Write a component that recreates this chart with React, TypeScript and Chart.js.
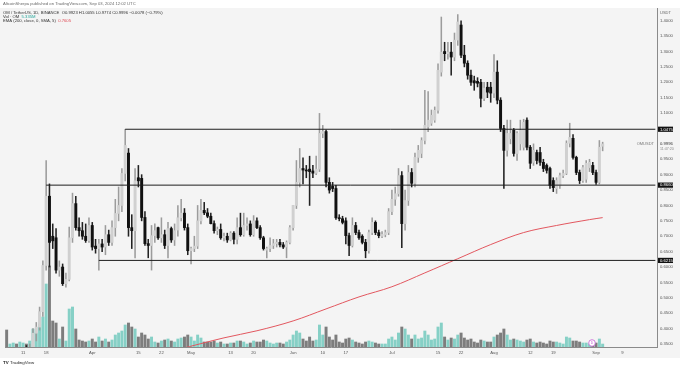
import React, { useEffect, useRef } from "react";
import { Chart, registerables } from "chart.js";

Chart.register(...registerables);

const FONT = "'Liberation Sans', 'DejaVu Sans', sans-serif";

// ---- categories (daily) ----
const startDate = "2024-03-06";
const dayCount = 198;

// ---- OHLC (OM / TetherUS, 1D) ----
const opens = [
  0.300, 0.290, 0.298, 0.305, 0.300, 0.318, 0.322, 0.316, 0.338, 0.385,
  0.405, 0.455, 0.605, 0.830, 0.700, 0.695, 0.590, 0.600, 0.546, 0.560,
  0.695, 0.806, 0.728, 0.718, 0.700, 0.686, 0.735, 0.668, 0.660, 0.675,
  0.665, 0.705, 0.680, 0.728, 0.774, 0.800, 0.904, 0.970, 0.728, 0.718,
  0.890, 0.888, 0.761, 0.676, 0.670, 0.702, 0.728, 0.695, 0.705, 0.670,
  0.725, 0.688, 0.720, 0.760, 0.775, 0.728, 0.653, 0.660, 0.668, 0.750,
  0.784, 0.776, 0.765, 0.741, 0.718, 0.722, 0.695, 0.700, 0.688, 0.710,
  0.690, 0.728, 0.705, 0.735, 0.740, 0.705, 0.750, 0.728, 0.695, 0.655,
  0.660, 0.670, 0.676, 0.680, 0.672, 0.665, 0.680, 0.728, 0.800, 0.875,
  0.920, 0.915, 0.918, 0.912, 0.905, 0.918, 1.034, 1.040, 0.875, 0.862,
  0.855, 0.760, 0.757, 0.750, 0.702, 0.670, 0.735, 0.712, 0.700, 0.680,
  0.653, 0.712, 0.745, 0.712, 0.700, 0.705, 0.712, 0.780, 0.820, 0.838,
  0.897, 0.741, 0.816, 0.907, 0.872, 0.956, 0.969, 1.011, 1.055, 1.067,
  1.077, 1.109, 1.233, 1.300, 1.293, 1.298, 1.282, 1.337, 1.386, 1.288,
  1.262, 1.223, 1.205, 1.203, 1.200, 1.148, 1.184, 1.184, 1.165, 1.233,
  1.142, 1.050, 0.979, 1.017, 1.044, 0.969, 1.000, 0.989, 1.077, 0.989,
  0.940, 0.972, 0.972, 0.940, 0.930, 0.920, 0.881, 0.855, 0.865, 0.897,
  0.904, 1.002, 1.018, 0.956, 0.907, 0.881, 0.885, 0.923, 0.930, 0.907,
  0.875, 0.9923,
];
const highs = [
  0.310, 0.305, 0.312, 0.320, 0.325, 0.335, 0.345, 0.350, 0.400, 0.420,
  0.470, 0.620, 0.946, 0.870, 0.740, 0.725, 0.620, 0.610, 0.580, 0.730,
  0.840, 0.830, 0.760, 0.745, 0.740, 0.760, 0.745, 0.690, 0.690, 0.690,
  0.735, 0.720, 0.750, 0.820, 0.860, 0.920, 1.047, 0.985, 0.770, 0.920,
  0.930, 0.900, 0.780, 0.690, 0.735, 0.740, 0.730, 0.760, 0.720, 0.745,
  0.730, 0.740, 0.800, 0.820, 0.790, 0.740, 0.665, 0.700, 0.800, 0.820,
  0.810, 0.790, 0.775, 0.750, 0.730, 0.740, 0.710, 0.710, 0.715, 0.715,
  0.760, 0.775, 0.775, 0.760, 0.750, 0.767, 0.760, 0.735, 0.700, 0.665,
  0.695, 0.690, 0.690, 0.690, 0.680, 0.685, 0.735, 0.800, 0.946, 0.985,
  0.955, 0.930, 0.960, 0.930, 0.960, 1.099, 1.060, 1.045, 0.890, 0.875,
  0.865, 0.770, 0.765, 0.760, 0.710, 0.760, 0.745, 0.720, 0.705, 0.690,
  0.720, 0.760, 0.750, 0.720, 0.715, 0.720, 0.790, 0.850, 0.860, 0.920,
  0.910, 0.850, 0.930, 0.920, 0.970, 0.995, 1.020, 1.174, 1.170, 1.110,
  1.120, 1.260, 1.412, 1.330, 1.330, 1.330, 1.360, 1.420, 1.400, 1.320,
  1.270, 1.240, 1.220, 1.215, 1.210, 1.200, 1.200, 1.200, 1.290, 1.270,
  1.150, 1.060, 1.077, 1.077, 1.050, 1.040, 1.077, 1.080, 1.085, 0.995,
  1.000, 0.980, 0.989, 0.950, 0.935, 0.925, 0.890, 0.890, 0.905, 0.915,
  1.010, 1.067, 1.030, 0.960, 0.915, 0.930, 0.946, 0.950, 0.940, 0.915,
  1.011, 1.0055,
];
const lows = [
  0.280, 0.285, 0.290, 0.298, 0.295, 0.310, 0.312, 0.310, 0.330, 0.360,
  0.395, 0.440, 0.590, 0.600, 0.660, 0.580, 0.570, 0.540, 0.535, 0.555,
  0.680, 0.720, 0.700, 0.690, 0.680, 0.680, 0.655, 0.645, 0.590, 0.650,
  0.640, 0.670, 0.670, 0.700, 0.750, 0.780, 0.880, 0.700, 0.660, 0.630,
  0.860, 0.750, 0.670, 0.630, 0.590, 0.680, 0.690, 0.680, 0.660, 0.630,
  0.680, 0.670, 0.700, 0.750, 0.720, 0.640, 0.610, 0.650, 0.660, 0.740,
  0.770, 0.760, 0.740, 0.710, 0.705, 0.690, 0.685, 0.680, 0.685, 0.675,
  0.675, 0.700, 0.700, 0.720, 0.700, 0.700, 0.725, 0.690, 0.655, 0.630,
  0.650, 0.660, 0.665, 0.665, 0.660, 0.630, 0.675, 0.720, 0.790, 0.860,
  0.870, 0.890, 0.800, 0.890, 0.900, 0.910, 1.020, 0.860, 0.840, 0.845,
  0.755, 0.750, 0.740, 0.675, 0.637, 0.665, 0.705, 0.690, 0.675, 0.630,
  0.645, 0.705, 0.705, 0.695, 0.695, 0.698, 0.705, 0.770, 0.800, 0.830,
  0.663, 0.720, 0.800, 0.860, 0.860, 0.940, 0.955, 1.000, 1.040, 1.060,
  1.070, 1.100, 1.220, 1.270, 1.275, 1.223, 1.270, 1.320, 1.280, 1.250,
  1.210, 1.190, 1.174, 1.185, 1.120, 1.140, 1.150, 1.135, 1.150, 1.130,
  1.040, 0.855, 0.960, 1.000, 0.960, 0.946, 0.980, 0.980, 0.980, 0.920,
  0.930, 0.935, 0.930, 0.910, 0.905, 0.855, 0.845, 0.839, 0.855, 0.890,
  0.900, 0.990, 0.950, 0.900, 0.871, 0.875, 0.875, 0.910, 0.900, 0.868,
  0.870, 0.9774,
];
const closes = [
  0.290, 0.298, 0.305, 0.300, 0.318, 0.322, 0.316, 0.338, 0.385, 0.405,
  0.455, 0.605, 0.830, 0.680, 0.685, 0.590, 0.600, 0.546, 0.560, 0.695,
  0.806, 0.728, 0.718, 0.700, 0.686, 0.735, 0.665, 0.660, 0.675, 0.665,
  0.705, 0.680, 0.728, 0.774, 0.800, 0.904, 0.995, 0.728, 0.718, 0.880,
  0.880, 0.761, 0.676, 0.670, 0.702, 0.718, 0.695, 0.705, 0.670, 0.725,
  0.688, 0.718, 0.760, 0.775, 0.728, 0.653, 0.660, 0.668, 0.750, 0.784,
  0.776, 0.765, 0.741, 0.718, 0.722, 0.695, 0.700, 0.688, 0.710, 0.690,
  0.728, 0.705, 0.735, 0.740, 0.705, 0.750, 0.728, 0.695, 0.660, 0.660,
  0.670, 0.676, 0.680, 0.672, 0.665, 0.680, 0.728, 0.800, 0.875, 0.920,
  0.915, 0.912, 0.910, 0.905, 0.918, 1.034, 1.040, 0.875, 0.850, 0.855,
  0.760, 0.757, 0.745, 0.702, 0.670, 0.735, 0.712, 0.695, 0.680, 0.653,
  0.712, 0.745, 0.712, 0.702, 0.706, 0.712, 0.780, 0.820, 0.838, 0.897,
  0.741, 0.816, 0.907, 0.872, 0.956, 0.979, 1.011, 1.060, 1.077, 1.093,
  1.109, 1.239, 1.298, 1.293, 1.298, 1.282, 1.337, 1.396, 1.288, 1.262,
  1.223, 1.200, 1.198, 1.197, 1.148, 1.181, 1.168, 1.165, 1.233, 1.142,
  1.050, 0.979, 1.034, 1.034, 0.969, 1.034, 1.044, 1.070, 0.989, 0.937,
  0.979, 0.946, 0.940, 0.920, 0.914, 0.865, 0.858, 0.881, 0.897, 0.904,
  1.002, 1.021, 0.956, 0.907, 0.881, 0.923, 0.937, 0.940, 0.907, 0.875,
  0.989, 0.9996,
];
// volume, millions of OM
const volumes = [
  30.6, 5.4, 7.2, 5.4, 9.0, 7.2, 5.4, 10.8, 32.4, 25.2,
  41.4, 54.0, 113.4, 145.8, 46.8, 43.2, 14.4, 36.0, 10.8, 68.4,
  72.0, 32.4, 12.6, 10.8, 9.0, 10.8, 14.4, 9.0, 18.0, 10.8,
  14.4, 9.0, 12.6, 21.6, 25.2, 28.8, 39.6, 43.2, 36.0, 32.4,
  18.0, 25.2, 21.6, 14.4, 18.0, 9.0, 7.2, 10.8, 12.6, 14.4,
  10.8, 9.0, 14.4, 16.2, 18.0, 21.6, 18.0, 10.8, 21.6, 16.2,
  9.0, 9.0, 9.0, 10.8, 7.2, 9.0, 5.4, 5.4, 7.2, 7.2,
  10.8, 10.8, 9.0, 5.4, 7.2, 10.8, 9.0, 9.0, 12.6, 10.8,
  7.2, 5.4, 7.2, 7.2, 5.4, 9.0, 12.6, 21.6, 28.8, 25.2,
  14.4, 10.8, 18.0, 10.8, 12.6, 39.6, 21.6, 36.0, 18.0, 12.6,
  21.6, 9.0, 7.2, 14.4, 16.2, 12.6, 9.0, 7.2, 5.4, 9.0,
  10.8, 9.0, 7.2, 5.4, 5.4, 5.4, 14.4, 18.0, 12.6, 25.2,
  36.0, 32.4, 21.6, 14.4, 21.6, 14.4, 16.2, 28.8, 21.6, 12.6,
  14.4, 36.0, 43.2, 18.0, 12.6, 16.2, 14.4, 21.6, 25.2, 16.2,
  12.6, 14.4, 9.0, 7.2, 12.6, 10.8, 9.0, 9.0, 18.0, 21.6,
  25.2, 32.4, 21.6, 12.6, 14.4, 12.6, 10.8, 9.0, 12.6, 14.4,
  9.0, 7.2, 9.0, 7.2, 5.4, 10.8, 9.0, 9.0, 7.2, 5.4,
  18.0, 16.2, 10.8, 10.8, 9.0, 7.2, 7.2, 5.4, 5.4, 7.2,
  14.4, 5.335,
];

// ---- EMA 200 (read at sample dates) ----
const emaDates = [
  "2024-04-27", "2024-05-11", "2024-05-21", "2024-06-01", "2024-06-11", "2024-06-21",
  "2024-07-01", "2024-07-11", "2024-07-21", "2024-07-31", "2024-08-10", "2024-08-20",
  "2024-08-30", "2024-09-03",
];
const emaValues = [
  0.332, 0.370, 0.393, 0.425, 0.464, 0.503,
  0.536, 0.581, 0.627, 0.673, 0.712, 0.735,
  0.754, 0.7605,
];

// ---- horizontal levels ----
const levelValues = [1.0475, 0.866, 0.6215];
const levelTexts = ["1.0475", "0.8660", "0.6215"];
const levelStarts = ["2024-04-11", "2024-03-18", "2024-04-03"];

// ---- axis ticks ----
const yTickValues = [
  0.35, 0.4, 0.45, 0.5, 0.55, 0.6, 0.65, 0.7, 0.75, 0.8, 0.85, 0.9, 0.95,
  1.0, 1.05, 1.1, 1.15, 1.2, 1.25, 1.3, 1.35, 1.4,
];
const yMin = 0.3403;
const yMax = 1.4413;
const xTickDates = [
  "2024-03-11", "2024-03-18", "2024-04-01", "2024-04-15", "2024-04-22", "2024-05-01",
  "2024-05-13", "2024-05-20", "2024-06-01", "2024-06-10", "2024-06-17", "2024-07-01",
  "2024-07-15", "2024-07-22", "2024-08-01", "2024-08-12", "2024-08-19", "2024-09-01",
  "2024-09-09",
];
const xTickTexts = [
  "11", "18", "Apr", "15", "22", "May", "13", "20", "Jun", "10", "17", "Jul",
  "15", "22", "Aug", "12", "19", "Sep", "9",
];

const lastPrice = 0.9996;
const lastPriceText = "0.9996";
const countdownText = "11:47:20";

function buildDates(start: string, n: number): string[] {
  const d = new Date(start + "T00:00:00Z");
  const out: string[] = [];
  for (let i = 0; i < n; i++) {
    out.push(d.toISOString().slice(0, 10));
    d.setUTCDate(d.getUTCDate() + 1);
  }
  return out;
}

const UP_BODY = "#d0d0d0";
const UP_WICK = "#9c9c9c";
const DOWN_BODY = "#111111";
const DOWN_WICK = "#222222";
const VOL_UP = "#86d0c6";
const VOL_DOWN = "#7d7d7d";

export default function App() {
  const ref = useRef<HTMLCanvasElement | null>(null);

  useEffect(() => {
    document.body.style.margin = "0";
    const canvas = ref.current;
    if (!canvas) return;

    const dates = buildDates(startDate, dayCount);
    const isUp = opens.map((o, i) => closes[i] >= o);
    const pad = (arr: any[]) => dates.map((_, i) => (i < arr.length ? arr[i] : null));

    const bodies = pad(opens.map((o, i) => [Math.min(o, closes[i]), Math.max(o, closes[i])]));
    const wicks = pad(lows.map((l, i) => [l, highs[i]]));
    const vols = pad(volumes);

    const ema = dates.map(() => null as number | null);
    emaDates.forEach((d, k) => {
      const idx = dates.indexOf(d);
      if (idx >= 0) ema[idx] = emaValues[k];
    });

    const levelSets = levelValues.map((v, k) => {
      const arr = dates.map(() => null as number | null);
      const s = dates.indexOf(levelStarts[k]);
      arr[s] = v;
      arr[dates.length - 1] = v;
      return {
        type: "line" as const,
        data: arr,
        borderColor: "#1e1e1e",
        borderWidth: 1,
        pointRadius: 0,
        spanGaps: true,
        tension: 0,
        yAxisID: "y",
        order: 0,
      };
    });

    const tickTextByIndex: Record<number, string> = {};
    xTickDates.forEach((d, k) => {
      const idx = dates.indexOf(d);
      if (idx >= 0) tickTextByIndex[idx] = xTickTexts[k];
    });

    const hiddenNear = [...levelValues, lastPrice];

    const bgPlugin = {
      id: "tvbg",
      beforeDraw(chart: any) {
        const { ctx, chartArea: ca, width, height } = chart;
        ctx.save();
        ctx.fillStyle = "#ffffff";
        ctx.fillRect(0, 0, width, height);
        ctx.fillStyle = "#f4f4f4";
        ctx.fillRect(0, ca.top, width, ca.bottom + 11 - ca.top);
        ctx.restore();
      },
    };

    const overlayPlugin = {
      id: "tvoverlay",
      afterDraw(chart: any) {
        const { ctx, chartArea: ca, scales } = chart;
        const y = scales.y;
        ctx.save();
        ctx.textBaseline = "middle";
        ctx.textAlign = "left";

        // header
        ctx.font = `4.2px ${FONT}`;
        ctx.fillStyle = "#6a6a6a";
        ctx.fillText("AltcoinSherpa published on TradingView.com, Sep 03, 2024 12:02 UTC", 3, 4);
        ctx.fillStyle = "#333333";
        const l1 = "OM / TetherUS, 1D, BINANCE  ";
        ctx.fillText(l1, 3, 12.5);
        const w1 = ctx.measureText(l1).width;
        ctx.fillText("O0.9923 H1.0055 L0.9774 C0.9996 −0.0078 (−0.79%)", 3 + w1, 12.5);
        const l2 = "Vol · OM  ";
        ctx.fillText(l2, 3, 16.5);
        ctx.fillStyle = "#26a69a";
        ctx.fillText("5.335M", 3 + ctx.measureText(l2).width, 16.5);
        ctx.fillStyle = "#333333";
        const l3 = "EMA (200, close, 0, SMA, 5)  ";
        ctx.fillText(l3, 3, 20.5);
        ctx.fillStyle = "#e04b55";
        ctx.fillText("0.7605", 3 + ctx.measureText(l3).width, 20.5);

        // USDT
        ctx.fillStyle = "#666666";
        ctx.font = `4px ${FONT}`;
        ctx.fillText("USDT", ca.right + 3, 13);

        // level boxes
        ctx.font = `4.2px ${FONT}`;
        levelValues.forEach((v, k) => {
          const py = y.getPixelForValue(v);
          ctx.fillStyle = "#111111";
          ctx.fillRect(ca.right + 1, py - 2.6, 15, 5.2);
          ctx.fillStyle = "#ffffff";
          ctx.fillText(levelTexts[k], ca.right + 3, py + 0.2);
        });

        // last price
        const lp = y.getPixelForValue(lastPrice);
        ctx.fillStyle = "#333333";
        ctx.fillText(lastPriceText, ca.right + 3, lp);
        ctx.fillStyle = "#888888";
        ctx.font = `3.6px ${FONT}`;
        ctx.fillText(countdownText, ca.right + 3, lp + 4.5);
        ctx.font = `4px ${FONT}`;
        ctx.fillStyle = "#777777";
        ctx.textAlign = "right";
        ctx.fillText("OMUSDT", ca.right - 3, lp);
        ctx.textAlign = "left";

        // event marker
        ctx.beginPath();
        ctx.arc(592, ca.bottom - 4, 3.3, 0, Math.PI * 2);
        ctx.fillStyle = "#ffffff";
        ctx.fill();
        ctx.strokeStyle = "#c25bd3";
        ctx.lineWidth = 0.8;
        ctx.stroke();
        ctx.font = `3.4px ${FONT}`;
        ctx.fillStyle = "#c25bd3";
        ctx.textAlign = "center";
        ctx.fillText("D", 592, ca.bottom - 3.9);

        // logo
        ctx.textAlign = "left";
        ctx.fillStyle = "#222222";
        ctx.font = `bold 4.4px ${FONT}`;
        ctx.fillText("TV", 3, 363);
        ctx.font = `4.4px ${FONT}`;
        ctx.fillText("TradingView", 10, 363);
        ctx.restore();
      },
    };

    const chart = new Chart(canvas, {
      type: "bar",
      data: {
        labels: dates,
        datasets: [
          {
            type: "line",
            data: ema,
            borderColor: "#e2575f",
            borderWidth: 1,
            pointRadius: 0,
            spanGaps: true,
            tension: 0.35,
            yAxisID: "y",
            order: 1,
          } as any,
          ...levelSets,
          {
            type: "bar",
            data: bodies,
            backgroundColor: pad(isUp.map((u) => (u ? UP_BODY : DOWN_BODY))),
            borderWidth: 0,
            barThickness: 2.3,
            minBarLength: 1,
            grouped: false,
            yAxisID: "y",
            order: 2,
          } as any,
          {
            type: "bar",
            data: wicks,
            backgroundColor: pad(isUp.map((u) => (u ? UP_WICK : DOWN_WICK))),
            borderWidth: 0,
            barThickness: 0.9,
            grouped: false,
            yAxisID: "y",
            order: 3,
          } as any,
          {
            type: "bar",
            data: vols,
            backgroundColor: pad(isUp.map((u) => (u ? VOL_UP : VOL_DOWN))),
            borderWidth: 0,
            barThickness: 2.3,
            grouped: false,
            yAxisID: "yv",
            order: 10,
          } as any,
        ],
      },
      options: {
        animation: false,
        responsive: false,
        devicePixelRatio: 1,
        events: [],
        layout: { padding: { left: 5, top: 8, right: 0, bottom: 12 } },
        plugins: { legend: { display: false }, tooltip: { enabled: false } },
        scales: {
          x: {
            type: "category",
            offset: true,
            grid: { display: false, drawTicks: false },
            border: { display: true, color: "#8a8a8a", width: 1 },
            ticks: {
              autoSkip: false,
              maxRotation: 0,
              minRotation: 0,
              padding: 3,
              color: "#555555",
              font: { size: 4.2, family: FONT },
              callback: (_v: any, i: number) => tickTextByIndex[i] ?? "",
            },
            afterFit: (s: any) => {
              s.height = 11;
            },
          },
          y: {
            type: "linear",
            position: "right",
            min: yMin,
            max: yMax,
            grid: { display: false, drawTicks: false },
            border: { display: true, color: "#8a8a8a", width: 1 },
            ticks: {
              padding: 3,
              color: "#555555",
              font: { size: 4.2, family: FONT },
              callback: (v: any) => {
                const num = Number(v);
                if (hiddenNear.some((h) => Math.abs(h - num) < 0.012)) return "";
                return num.toFixed(4);
              },
            },
            afterBuildTicks: (s: any) => {
              s.ticks = yTickValues.map((v) => ({ value: v }));
            },
            afterFit: (s: any) => {
              s.width = 23;
            },
          },
          yv: {
            type: "linear",
            display: false,
            min: 0,
            max: 610,
          },
        },
      } as any,
      plugins: [bgPlugin, overlayPlugin],
    });

    return () => chart.destroy();
  }, []);

  return (
    <div style={{ width: 680, height: 370, position: "relative" }}>
      <canvas ref={ref} width={680} height={370} style={{ display: "block", width: 680, height: 370 }} />
    </div>
  );
}
